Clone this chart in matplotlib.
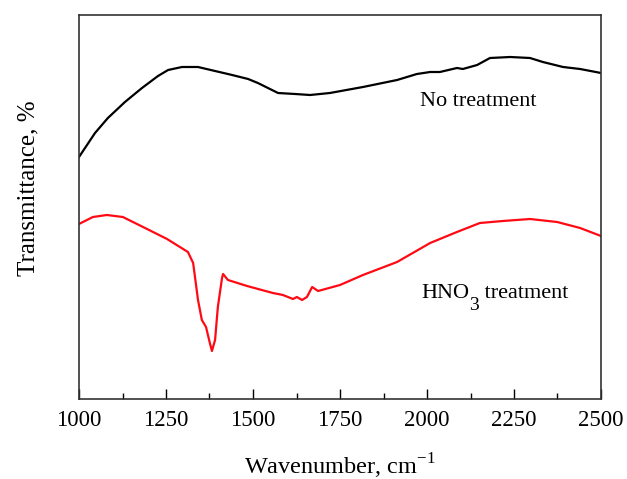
import numpy as np
import matplotlib.pyplot as plt
import matplotlib
from matplotlib.ticker import MultipleLocator
from matplotlib.transforms import offset_copy

matplotlib.rcParams['font.family'] = 'Liberation Serif'
matplotlib.rcParams['mathtext.fontset'] = 'custom'
matplotlib.rcParams['mathtext.rm'] = 'Liberation Serif'

# wavenumber (cm-1) and transmittance (arbitrary units)
wn_none = [1000, 1046, 1083, 1132, 1181, 1227, 1256, 1296, 1342, 1391, 1440, 1486,
           1514, 1543, 1572, 1621, 1664, 1721, 1816, 1914, 1971, 2009, 2037, 2086,
           2103, 2144, 2181, 2239, 2296, 2333, 2391, 2440, 2500]
tr_none = [243, 267, 282, 298, 312, 324, 330, 333, 333, 329, 325, 321,
           317, 312, 307, 306, 305, 307, 313, 320, 326, 328, 328, 332,
           331, 335, 342, 343, 342, 338, 333, 331, 327]

wn_hno3 = [1000, 1040, 1080, 1126, 1184, 1253, 1290, 1313, 1328, 1342, 1353, 1365,
           1376, 1382, 1391, 1399, 1411, 1414, 1428, 1483, 1557, 1586, 1615, 1626,
           1641, 1655, 1670, 1687, 1750, 1816, 1914, 2009, 2086, 2152, 2218, 2296,
           2374, 2440, 2500]
tr_hno3 = [176, 183, 185, 183, 173, 161, 153, 148, 137, 100, 80, 73,
           57, 49, 60, 93, 122, 126, 120, 114, 107, 105, 101, 103,
           100, 103, 113, 109, 115, 125, 138, 157, 168, 177, 179, 181,
           178, 172, 164]

fig = plt.figure(figsize=(6.27, 4.79), dpi=100)
ax = fig.add_axes([79/627, 80/479, 522/627, 384/479])

ax.plot(wn_none, tr_none, color='black', lw=1.6)
ax.plot(wn_hno3, tr_hno3, color='#ff0a14', lw=1.6)

ax.set_xlim(1000, 2500)
ax.set_ylim(1, 385)
ax.xaxis.set_major_locator(MultipleLocator(250))
ax.xaxis.set_minor_locator(MultipleLocator(125))
ax.tick_params(axis='x', which='major', direction='in', length=7, width=1, labelsize=16.5, pad=8)
ax.tick_params(axis='x', which='minor', direction='in', length=4, width=1)
ax.set_yticks([])
for s in ax.spines.values():
    s.set_linewidth(1.2)
    s.set_color('#333333')

ax.text(1980, 299, 'No treatment', fontsize=16, va='center', ha='left')

# HNO3 label built in pieces so the subscript stays large
fig.canvas.draw()
r = fig.canvas.get_renderer()
t1 = ax.text(1985, 106, 'HNO', fontsize=16, va='center', ha='left')
w1 = t1.get_window_extent(r).width
t2 = ax.text(1985, 106, '3', fontsize=14,  va='center', ha='left',
             transform=offset_copy(ax.transData, fig=fig, x=w1 - 1, y=-11, units='dots'))
w2 = t2.get_window_extent(r).width
ax.text(1985, 106, ' treatment', fontsize=16, va='center', ha='left',
        transform=offset_copy(ax.transData, fig=fig, x=w1 + w2 - 1, y=0, units='dots'))

ax.set_xlabel(r'Wavenumber, cm$^{-1}$', fontsize=17.5)
ax.xaxis.set_label_coords(0.5, -0.137)
ax.set_ylabel('Transmittance, %', fontsize=18)
ax.yaxis.set_label_coords(-0.076, 0.55)

fig.savefig('out.png', dpi=100)
